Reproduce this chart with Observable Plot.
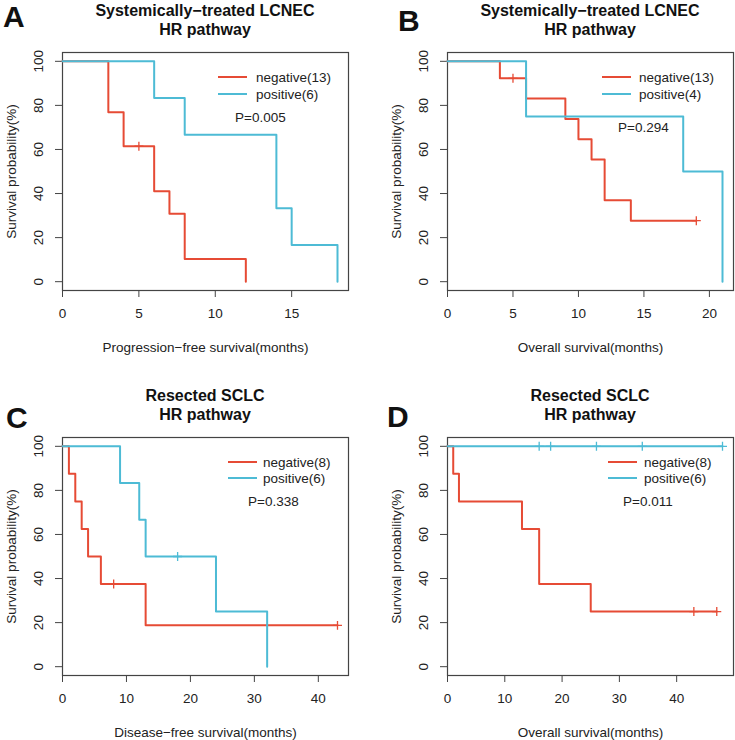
<!DOCTYPE html>
<html>
<head>
<meta charset="utf-8">
<script src="https://cdn.jsdelivr.net/npm/d3@7"></script>
<script src="https://cdn.jsdelivr.net/npm/@observablehq/plot@0.6"></script>
<style>
  body { margin: 0; background: #fff; }
  #root { position: relative; width: 735px; height: 740px; font-family: "Liberation Sans", Arial, sans-serif; color: #222; }
  .panel { position: absolute; }
  .panel svg { position: absolute; left: 0; top: 0; overflow: visible; }
  .abs { position: absolute; white-space: nowrap; }
</style>
</head>
<body>
<div id="root"></div>
<script>
// ---- Data ----
const panelLetters = ["A", "B", "C", "D"];
const titleLine1 = ["Systemically\u2212treated LCNEC", "Systemically\u2212treated LCNEC", "Resected SCLC", "Resected SCLC"];
const titleLine2 = ["HR pathway", "HR pathway", "HR pathway", "HR pathway"];
const xLabels = ["Progression\u2212free survival(months)", "Overall survival(months)", "Disease\u2212free survival(months)", "Overall survival(months)"];
const yLabel = "Survival probability(%)";
const negLegend = ["negative(13)", "negative(13)", "negative(8)", "negative(8)"];
const posLegend = ["positive(6)", "positive(4)", "positive(6)", "positive(6)"];
const pValues = ["P=0.005", "P=0.294", "P=0.338", "P=0.011"];
const xTicksA = [0, 5, 10, 15];
const xTicksB = [0, 5, 10, 15, 20];
const xTicksC = [0, 10, 20, 30, 40];
const xTicksD = [0, 10, 20, 30, 40];
const yTicks = [0, 20, 40, 60, 80, 100];

// Panel A
const aNegTime = [0, 3, 4, 6, 7, 8, 12];
const aNegSurv = [100, 76.9, 61.5, 41.0, 30.8, 10.3, 0];
const aNegCensorTime = [5];
const aNegCensorSurv = [61.5];
const aPosTime = [0, 6, 8, 14, 15, 18];
const aPosSurv = [100, 83.3, 66.7, 33.3, 16.7, 0];
const aPosCensorTime = [];
const aPosCensorSurv = [];
// Panel B
const bNegTime = [0, 4, 6, 9, 10, 11, 12, 14, 19];
const bNegSurv = [100, 92.3, 83.1, 73.8, 64.6, 55.4, 36.9, 27.7, 27.7];
const bNegCensorTime = [5, 19];
const bNegCensorSurv = [92.3, 27.7];
const bPosTime = [0, 6, 18, 21];
const bPosSurv = [100, 75, 50, 0];
const bPosCensorTime = [];
const bPosCensorSurv = [];
// Panel C
const cNegTime = [0, 1, 2, 3, 4, 6, 13, 43];
const cNegSurv = [100, 87.5, 75, 62.5, 50, 37.5, 18.75, 18.75];
const cNegCensorTime = [8, 43];
const cNegCensorSurv = [37.5, 18.75];
const cPosTime = [0, 9, 12, 13, 24, 32];
const cPosSurv = [100, 83.3, 66.7, 50, 25, 0];
const cPosCensorTime = [18];
const cPosCensorSurv = [50];
// Panel D
const dNegTime = [0, 1, 2, 13, 16, 25, 47];
const dNegSurv = [100, 87.5, 75, 62.5, 37.5, 25, 25];
const dNegCensorTime = [43, 47];
const dNegCensorSurv = [25, 25];
const dPosTime = [0, 48];
const dPosSurv = [100, 100];
const dPosCensorTime = [16, 18, 26, 34, 48];
const dPosCensorSurv = [100, 100, 100, 100, 100];

const RED = "#E64B35";
const BLUE = "#4DBBD5";
const BOX = "#444";

const panels = [
  {xTicks: xTicksA, negT: aNegTime, negS: aNegSurv, negCT: aNegCensorTime, negCS: aNegCensorSurv, posT: aPosTime, posS: aPosSurv, posCT: aPosCensorTime, posCS: aPosCensorSurv},
  {xTicks: xTicksB, negT: bNegTime, negS: bNegSurv, negCT: bNegCensorTime, negCS: bNegCensorSurv, posT: bPosTime, posS: bPosSurv, posCT: bPosCensorTime, posCS: bPosCensorSurv},
  {xTicks: xTicksC, negT: cNegTime, negS: cNegSurv, negCT: cNegCensorTime, negCS: cNegCensorSurv, posT: cPosTime, posS: cPosSurv, posCT: cPosCensorTime, posCS: cPosCensorSurv},
  {xTicks: xTicksD, negT: dNegTime, negS: dNegSurv, negCT: dNegCensorTime, negCS: dNegCensorSurv, posT: dPosTime, posS: dPosSurv, posCT: dPosCensorTime, posCS: dPosCensorSurv}
];

// ---- Layout (styling only) ----
const layout = [
  {left: 0,   top: 0,   h: 385, mb: 95, letter: [3, 0],  legend: {lx: 218, tx: 256, y1: 77, y2: 94, px: 235, py: 117}},
  {left: 385, top: 0,   h: 385, mb: 95, letter: [13, 4], legend: {lx: 217, tx: 254, y1: 77, y2: 94, px: 233, py: 127}},
  {left: 0,   top: 385, h: 355, mb: 65, letter: [6, 16], legend: {lx: 228, tx: 263, y1: 77, y2: 93, px: 248, py: 116}},
  {left: 385, top: 385, h: 355, mb: 65, letter: [2, 15], legend: {lx: 223, tx: 259, y1: 77, y2: 93, px: 238, py: 116}}
];
const W = 350, ML = 62, MR = 2, MT = 52;

const root = document.getElementById("root");

function addText(parent, txt, x, yc, style) {
  const d = document.createElement("div");
  d.className = "abs";
  d.textContent = txt;
  d.style.left = x + "px";
  d.style.top = yc + "px";
  d.style.transform = "translateY(-50%)";
  Object.assign(d.style, style || {});
  parent.appendChild(d);
  return d;
}

panels.forEach((p, i) => {
  const L = layout[i];
  const div = document.createElement("div");
  div.className = "panel";
  div.style.left = L.left + "px";
  div.style.top = L.top + "px";
  div.style.width = W + "px";
  div.style.height = L.h + "px";
  root.appendChild(div);

  const xmax = Math.max(...p.negT, ...p.posT) * 1.04;
  const neg = p.negT.map((t, k) => ({t, s: p.negS[k]}));
  const pos = p.posT.map((t, k) => ({t, s: p.posS[k]}));
  const negC = p.negCT.map((t, k) => ({t, s: p.negCS[k]}));
  const posC = p.posCT.map((t, k) => ({t, s: p.posCS[k]}));

  const chart = Plot.plot({
    width: W,
    height: L.h,
    marginLeft: ML,
    marginRight: MR,
    marginTop: MT,
    marginBottom: L.mb,
    style: {fontFamily: '"Liberation Sans", Arial, sans-serif', background: "transparent", overflow: "visible"},
    x: {domain: [0, xmax]},
    y: {domain: [-4, 104]},
    marks: [
      Plot.axisX(p.xTicks, {tickSize: 7, tickFormat: () => "", stroke: BOX, label: null}),
      Plot.axisY(yTicks, {tickSize: 7, tickFormat: () => "", stroke: BOX, label: null}),
      Plot.text(p.xTicks, {x: d => d, frameAnchor: "bottom", dy: 23, text: d => String(d), fontSize: 13.5, fill: "#222", textAnchor: "middle", lineAnchor: "middle"}),
      Plot.text(yTicks, {y: d => d, frameAnchor: "left", dx: -24, rotate: -90, text: d => String(d), fontSize: 13.5, fill: "#222", textAnchor: "middle", lineAnchor: "middle"}),
      Plot.text([xLabels[i]], {frameAnchor: "bottom", dy: 57, text: d => d, fontSize: 13.5, fill: "#222", textAnchor: "middle", lineAnchor: "middle"}),
      Plot.text([yLabel], {frameAnchor: "left", dx: -51, rotate: -90, text: d => d, fontSize: 13.5, fill: "#222", textAnchor: "middle", lineAnchor: "middle"}),
      Plot.frame({stroke: BOX, strokeWidth: 1.2}),
      Plot.line(neg, {x: "t", y: "s", curve: "step-after", stroke: RED, strokeWidth: 2}),
      Plot.dot(negC, {x: "t", y: "s", symbol: "plus", r: 3, stroke: RED, strokeWidth: 1.3}),
      Plot.line(pos, {x: "t", y: "s", curve: "step-after", stroke: BLUE, strokeWidth: 2}),
      Plot.dot(posC, {x: "t", y: "s", symbol: "plus", r: 3, stroke: BLUE, strokeWidth: 1.3})
    ]
  });
  div.appendChild(chart);

  // panel letter
  const letter = document.createElement("div");
  letter.className = "abs";
  letter.textContent = panelLetters[i];
  Object.assign(letter.style, {left: L.letter[0] + "px", top: L.letter[1] + "px", fontSize: "30px", fontWeight: "bold", lineHeight: "34px", color: "#111"});
  div.appendChild(letter);

  // title
  const title = document.createElement("div");
  title.className = "abs";
  Object.assign(title.style, {left: ML + "px", width: (W - ML - MR) + "px", top: "1px", textAlign: "center", fontSize: "16px", fontWeight: "bold", lineHeight: "19px", color: "#111"});
  title.innerHTML = titleLine1[i] + "<br>" + titleLine2[i];
  div.appendChild(title);

  // legend
  const g = L.legend;
  const sw1 = document.createElement("div");
  sw1.className = "abs";
  Object.assign(sw1.style, {left: g.lx + "px", top: (g.y1 - 1) + "px", width: "29px", height: "2px", background: RED});
  div.appendChild(sw1);
  const sw2 = document.createElement("div");
  sw2.className = "abs";
  Object.assign(sw2.style, {left: g.lx + "px", top: (g.y2 - 1) + "px", width: "29px", height: "2px", background: BLUE});
  div.appendChild(sw2);
  addText(div, negLegend[i], g.tx, g.y1, {fontSize: "13.5px"});
  addText(div, posLegend[i], g.tx, g.y2, {fontSize: "13.5px"});
  addText(div, pValues[i], g.px, g.py, {fontSize: "13.5px"});
});
</script>
</body>
</html>
